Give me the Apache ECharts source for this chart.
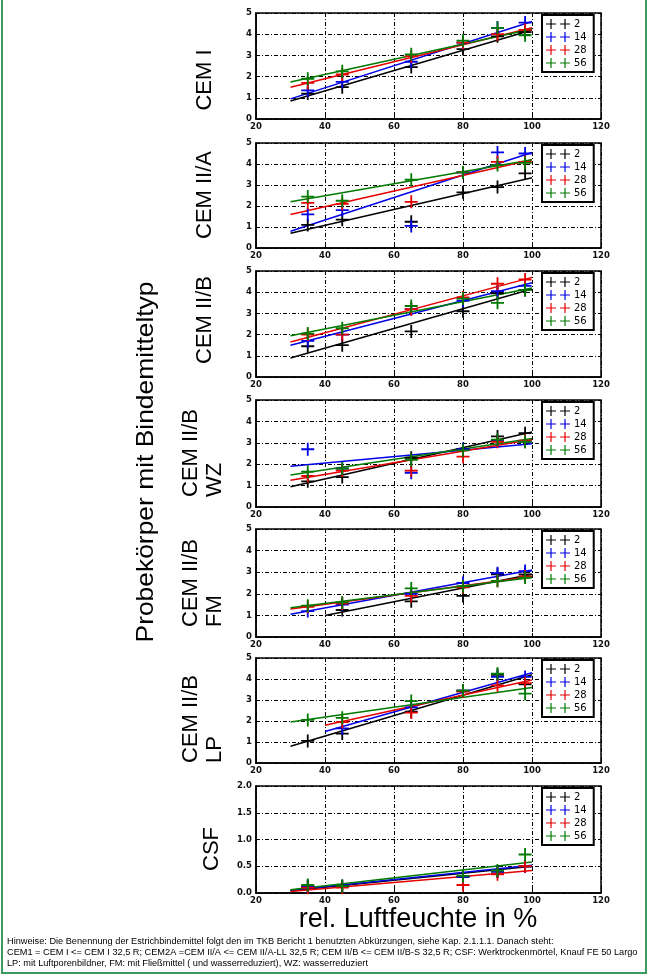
<!DOCTYPE html>
<html>
<head>
<meta charset="utf-8">
<script src="https://cdn.jsdelivr.net/npm/echarts@6/dist/echarts.min.js"></script>
<style>
html,body{margin:0;padding:0;background:#fff;}
#c{width:649px;height:976px;}
</style>
</head>
<body>
<div id="c"></div>
<script>
// ---------- data ----------
const xPoints = [35, 45, 65, 80, 90, 98];
const groupNames = ['2', '14', '28', '56'];
const xTicks = [20, 40, 60, 80, 100, 120];
const panelLabels = ['CEM I', 'CEM II/A', 'CEM II/B', 'CEM II/B\nWZ', 'CEM II/B\nFM', 'CEM II/B\nLP', 'CSF'];

// values per group [2, 14, 28, 56] at xPoints
const valsCEM_I = [
  [1.2, 1.5, 2.45, 3.3, 3.9, 4.1],
  [1.35, 1.75, 2.7, 3.6, 4.3, 4.55],
  [1.7, 2.1, 2.95, 3.6, 4.0, 4.2],
  [1.9, 2.25, 3.05, 3.7, 4.3, 3.95]
];
const valsCEM_IIA = [
  [1.1, 1.35, 1.25, 2.65, 2.9, 3.55],
  [1.6, 1.8, 1.05, 3.6, 4.55, 4.5],
  [2.15, 2.1, 2.2, 3.6, 4.1, 4.1],
  [2.45, 2.25, 3.25, 3.6, 3.95, 4.05]
];
const valsCEM_IIB = [
  [1.45, 1.5, 2.15, 3.1, 3.95, 4.1],
  [1.7, 2.0, 3.2, 3.6, 4.05, 4.3],
  [2.0, 2.0, 3.2, 3.75, 4.4, 4.6],
  [2.05, 2.3, 3.35, 3.7, 3.5, 4.1]
];
const valsCEM_IIB_WZ = [
  [1.2, 1.4, 2.3, 2.7, 3.3, 3.45],
  [2.7, 1.8, 1.6, 2.7, 3.1, 3.05],
  [1.45, 1.7, 1.7, 2.35, 3.05, 3.1],
  [1.65, 1.8, 2.2, 2.65, 3.15, 3.05]
];
const valsCEM_IIB_FM = [
  [null, 1.25, 1.65, 1.9, 2.9, 2.9],
  [1.2, 1.5, 2.0, 2.5, 2.95, 3.05],
  [1.4, 1.55, 1.9, 2.3, 2.6, 2.8],
  [1.45, 1.6, 2.25, 2.35, 2.6, 2.75]
];
const valsCEM_IIB_LP = [
  [1.05, 1.4, 2.45, 3.45, 4.2, 3.75],
  [null, 1.65, 2.65, 3.45, 4.1, 4.1],
  [null, 1.95, 2.4, 3.4, 3.7, 3.8],
  [2.05, 2.15, 2.95, 3.45, 4.25, 3.3]
];
const valsCSF = [
  [0.13, 0.13, null, 0.3, 0.4, 0.5],
  [0.12, 0.12, null, 0.3, 0.4, 0.5],
  [0.1, 0.1, null, 0.15, 0.35, 0.5],
  [0.15, 0.13, null, 0.32, 0.42, 0.72]
];

// fitted lines per group: [x start, y at start, y at x=100]
const fitCEM_I = [[30, 0.85, 4.2], [30, 0.95, 4.6], [30, 1.5, 4.3], [30, 1.75, 4.25]];
const fitCEM_IIA = [[30, 0.7, 3.35], [30, 0.8, 4.55], [30, 1.6, 4.2], [30, 2.2, 4.2]];
const fitCEM_IIB = [[30, 0.9, 4.15], [30, 1.5, 4.45], [30, 1.65, 4.7], [30, 1.95, 4.2]];
const fitCEM_IIB_WZ = [[30, 0.95, 3.5], [30, 1.9, 2.95], [30, 1.25, 3.15], [30, 1.5, 3.2]];
const fitCEM_IIB_FM = [[40, 1.0, 2.9], [30, 1.05, 3.1], [30, 1.3, 2.8], [30, 1.35, 2.75]];
const fitCEM_IIB_LP = [[30, 0.8, 4.2], [40, 1.5, 4.3], [40, 1.8, 3.95], [30, 1.95, 3.6]];
const fitCSF = [[30, 0.04, 0.5], [30, 0.05, 0.52], [30, 0.03, 0.42], [30, 0.06, 0.58]];

const yMaxes = [5, 5, 5, 5, 5, 5, 2];
const yIntervals = [1, 1, 1, 1, 1, 1, 0.5];

// ---------- layout / style ----------
const panelVals = [valsCEM_I, valsCEM_IIA, valsCEM_IIB, valsCEM_IIB_WZ, valsCEM_IIB_FM, valsCEM_IIB_LP, valsCSF];
const panelFits = [fitCEM_I, fitCEM_IIA, fitCEM_IIB, fitCEM_IIB_WZ, fitCEM_IIB_FM, fitCEM_IIB_LP, fitCSF];
const tops = [13, 143, 271, 400, 529, 658, 786];
const heights = [106, 105, 106, 107, 108, 105, 107];
const colors = ['#000000', '#0000e6', '#e60000', '#007a00'];
const plusSym = 'path://M0,4.3H10V5.7H0Z M4.3,0H5.7V10H4.3Z';
const legendIcon = 'path://M0,4.4H10V5.6H0Z M4.4,0H5.6V10H4.4Z M14,4.4H24V5.6H14Z M18.4,0H19.6V10H18.4Z';
const labelFont = {fontFamily: 'DejaVu Sans', fontSize: 8.5, fontWeight: 'bold', color: '#111'};
const gridDash = {color: '#000', type: [4, 2, 1, 2], width: 1};

const grids = [], xAxes = [], yAxes = [], series = [], legends = [];
panelVals.forEach((vals, i) => {
  grids.push({left: 256, width: 345, top: tops[i], height: heights[i], show: true,
    borderColor: '#000', borderWidth: 1.5, backgroundColor: '#fff', containLabel: false});
  xAxes.push({gridIndex: i, type: 'value', min: xTicks[0], max: xTicks[xTicks.length - 1], interval: 20,
    axisLine: {show: true, onZero: false, lineStyle: {color: '#000', width: 1.5}},
    axisTick: {show: true, inside: true, length: 4, lineStyle: {color: '#000'}},
    axisLabel: Object.assign({margin: 3}, labelFont),
    splitLine: {show: true, lineStyle: gridDash}});
  yAxes.push({gridIndex: i, type: 'value', min: 0, max: yMaxes[i], interval: yIntervals[i],
    axisLine: {show: true, onZero: false, lineStyle: {color: '#000', width: 1.5}},
    axisTick: {show: true, inside: true, length: 4, lineStyle: {color: '#000'}},
    axisLabel: Object.assign({margin: 4, formatter: v => (yIntervals[i] < 1 ? v.toFixed(1) : String(v))}, labelFont),
    splitLine: {show: true, lineStyle: gridDash}});
  groupNames.forEach((g, j) => {
    const f = panelFits[i][j];
    series.push({type: 'line', name: g + ' fit', xAxisIndex: i, yAxisIndex: i,
      data: [[f[0], f[1]], [100, f[2]]], symbol: 'none', silent: true,
      lineStyle: {color: colors[j], width: 1.5}, z: 2});
  });
  groupNames.forEach((g, j) => {
    const pts = [];
    xPoints.forEach((x, k) => { if (vals[j][k] != null) pts.push([x, vals[j][k]]); });
    series.push({type: 'scatter', name: g, xAxisIndex: i, yAxisIndex: i, data: pts,
      symbol: plusSym, symbolSize: 13, itemStyle: {color: colors[j], opacity: 1}, z: 3});
  });
  legends.push({orient: 'vertical', left: 542, top: tops[i] + 2,
    backgroundColor: '#fff', borderColor: '#000', borderWidth: 2, borderRadius: 0,
    padding: [4, 7, 4, 4], itemGap: 3, itemWidth: 24, itemHeight: 10, selectedMode: false,
    textStyle: {fontFamily: 'DejaVu Sans', fontSize: 10, color: '#000', padding: [0, 0, 0, -1]},
    data: groupNames.map((g, j) => ({name: g, icon: legendIcon, itemStyle: {color: colors[j]}}))});
});

// rotated side labels
const graphics = [];
const labelPos = [[205, 80], [205, 195], [205, 320], [203, 497], [203, 627], [203, 763], [212, 849]];
panelLabels.forEach((t, i) => {
  const multi = t.indexOf('\n') >= 0;
  graphics.push({type: 'text', x: labelPos[i][0], y: labelPos[i][1], rotation: Math.PI / 2,
    style: {text: t, fontFamily: 'Liberation Sans', fontSize: 22, fill: '#000',
      lineHeight: 24, textAlign: multi ? 'left' : 'center', textVerticalAlign: 'middle'}});
});
graphics.push({type: 'text', x: 146, y: 462, rotation: Math.PI / 2, scaleX: 1.1,
  style: {text: 'Probekörper mit Bindemitteltyp', fontFamily: 'Liberation Sans', fontSize: 24,
    fill: '#000', textAlign: 'center', textVerticalAlign: 'middle'}});
graphics.push({type: 'text', x: 418, y: 920,
  style: {text: 'rel. Luftfeuchte in %', fontFamily: 'Liberation Sans', fontSize: 27,
    fill: '#000', textAlign: 'center', textVerticalAlign: 'middle'}});
const notes = [
  'Hinweise: Die Benennung der Estrichbindemittel folgt den im TKB Bericht 1 benutzten Abkürzungen, siehe Kap. 2.1.1.1. Danach steht:',
  'CEM1 = CEM I <= CEM I 32,5 R; CEM2A =CEM II/A <= CEM II/A-LL 32,5 R; CEM II/B <= CEM II/B-S 32,5 R; CSF: Werktrockenmörtel, Knauf FE 50 Largo',
  'LP: mit Luftporenbildner, FM: mit Fließmittel ( und wasserreduziert), WZ: wasserreduziert'
];
notes.forEach((t, k) => {
  graphics.push({type: 'text', x: 7, y: 941 + k * 11,
    style: {text: t, fontFamily: 'Liberation Sans', fontSize: 9.2, fill: '#000',
      textAlign: 'left', textVerticalAlign: 'middle'}});
});
graphics.push({type: 'rect', shape: {x: 2, y: -5, width: 644, height: 978}, silent: true, z: -1,
  style: {fill: 'none', stroke: '#3c9a5f', lineWidth: 2}});

const chart = echarts.init(document.getElementById('c'), null, {renderer: 'canvas'});
chart.setOption({
  animation: false,
  backgroundColor: '#fff',
  grid: grids, xAxis: xAxes, yAxis: yAxes, series: series, legend: legends,
  graphic: graphics
});
</script>
</body>
</html>
